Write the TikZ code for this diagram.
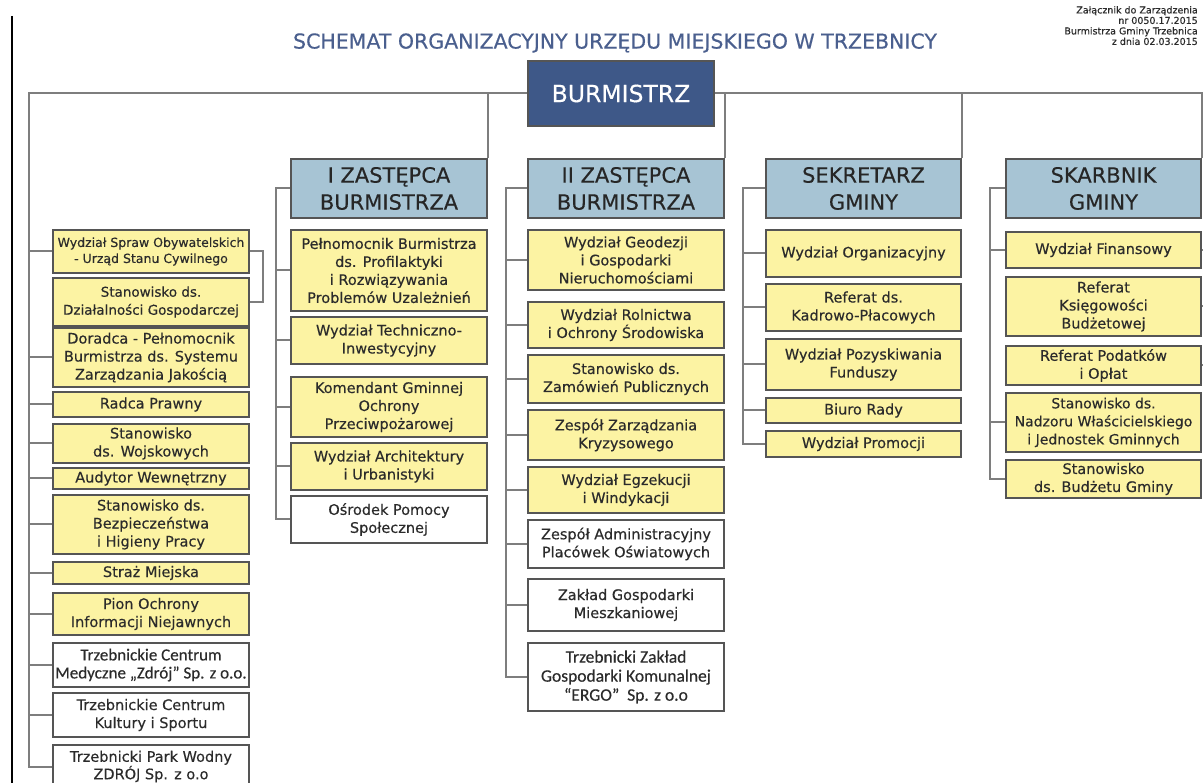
\documentclass[tikz,border=0pt]{standalone}
\usepackage{fontspec}
\setmainfont{DejaVu Sans}[FakeBold=0.35]
\newfontfamily\calib{Carlito}[FakeBold=0.35]
\definecolor{ylw}{HTML}{FCF3A3}
\definecolor{hdr}{HTML}{A7C4D4}
\definecolor{burc}{HTML}{3E5888}
\definecolor{bord}{HTML}{555555}
\definecolor{lnk}{HTML}{7E7E7E}
\definecolor{txt}{HTML}{2B2B2B}
\definecolor{ttl}{HTML}{4A5F8E}
\tikzset{
  bx/.style={draw=bord, line width=1.4pt, align=center, inner sep=0pt, text=txt,
    font=\fontsize{14.5}{18}\selectfont},
  yb/.style={bx, fill=ylw},
  wb/.style={bx, fill=white},
  hb/.style={bx, fill=hdr, text=black!85, font=\fontsize{21}{27}\selectfont},
  conn/.style={draw=lnk, line width=2pt},
}
\newcommand\mkbox[7]{\node[#2, minimum width={(#4-#3)*1pt}, minimum height={(#6-#5)*1pt}] (#1) at ({(#3+#4)/2},{(#5+#6)/2}) {#7};}
\begin{document}
\begin{tikzpicture}[x=1pt,y=-1pt]
\fill[white] (0,0) rectangle (1203,783);
\useasboundingbox (0,0) rectangle (1203,783);
\draw[black, line width=2pt] (12,16) -- (12,783);

\node[font=\fontsize{20.5}{24}\selectfont, text=ttl, inner sep=0pt] (title) at (615,43) {SCHEMAT ORGANIZACYJNY URZĘDU MIEJSKIEGO W TRZEBNICY};
\node[anchor=north east, align=right, font=\fontsize{9.5}{10.5}\selectfont, text=txt, inner sep=0pt] (note) at (1198,6) {Załącznik do Zarządzenia\\nr 0050.17.2015\\Burmistrza Gminy Trzebnica\\z dnia 02.03.2015};

\mkbox{bur}{bx, fill=burc, text=white, font=\fontsize{23.5}{28}\selectfont}{528}{714}{61}{126}{BURMISTRZ}

\mkbox{z1}{hb}{291}{487}{159}{218}{I ZASTĘPCA\\BURMISTRZA}
\mkbox{z2}{hb}{528}{724}{159}{218}{II ZASTĘPCA\\BURMISTRZA}
\mkbox{sek}{hb}{766}{961}{159}{218}{SEKRETARZ\\GMINY}
\mkbox{ska}{hb}{1006}{1201}{159}{218}{SKARBNIK\\GMINY}

% left column
\mkbox{l1}{yb, font=\fontsize{12.5}{16}\selectfont}{53}{249}{230}{273}{Wydział Spraw Obywatelskich\\- Urząd Stanu Cywilnego}
\mkbox{l2}{yb, font=\fontsize{13.5}{18}\selectfont}{53}{249}{278}{326}{Stanowisko ds.\\Działalności Gospodarczej}
\mkbox{l3}{yb}{53}{249}{328}{387}{Doradca - Pełnomocnik\\Burmistrza ds. Systemu\\Zarządzania Jakością}
\mkbox{l4}{yb}{53}{249}{392}{417}{Radca Prawny}
\mkbox{l5}{yb}{53}{249}{424}{463}{Stanowisko\\ds. Wojskowych}
\mkbox{l6}{yb}{53}{249}{468}{489}{Audytor Wewnętrzny}
\mkbox{l7}{yb}{53}{249}{495}{554}{Stanowisko ds.\\Bezpieczeństwa\\i Higieny Pracy}
\mkbox{l8}{yb}{53}{249}{562}{584}{Straż Miejska}
\mkbox{l9}{yb}{53}{249}{593}{635}{Pion Ochrony\\Informacji Niejawnych}
\mkbox{l10}{wb, font=\calib\fontsize{17}{18}\selectfont}{53}{249}{643}{687}{Trzebnickie Centrum\\Medyczne „Zdrój” Sp. z o.o.}
\mkbox{l11}{wb}{53}{249}{693}{737}{Trzebnickie Centrum\\Kultury i Sportu}
\mkbox{l12}{wb, font=\fontsize{14.5}{14}\selectfont}{53}{249}{745}{788}{Trzebnicki Park Wodny\\ZDRÓJ Sp. z o.o}

% I zastepca
\mkbox{a1}{yb}{291}{487}{230}{311}{Pełnomocnik Burmistrza\\ds. Profilaktyki\\i Rozwiązywania\\Problemów Uzależnień}
\mkbox{a2}{yb}{291}{487}{317}{364}{Wydział Techniczno-\\Inwestycyjny}
\mkbox{a3}{yb}{291}{487}{377}{437}{Komendant Gminnej\\Ochrony\\Przeciwpożarowej}
\mkbox{a4}{yb}{291}{487}{443}{490}{Wydział Architektury\\i Urbanistyki}
\mkbox{a5}{wb}{291}{487}{496}{543}{Ośrodek Pomocy\\Społecznej}

% II zastepca
\mkbox{b1}{yb}{528}{724}{230}{290}{Wydział Geodezji\\i Gospodarki\\Nieruchomościami}
\mkbox{b2}{yb}{528}{724}{302}{348}{Wydział Rolnictwa\\i Ochrony Środowiska}
\mkbox{b3}{yb}{528}{724}{355}{403}{Stanowisko ds.\\Zamówień Publicznych}
\mkbox{b4}{yb}{528}{724}{410}{460}{Zespół Zarządzania\\Kryzysowego}
\mkbox{b5}{yb}{528}{724}{467}{513}{Wydział Egzekucji\\i Windykacji}
\mkbox{b6}{wb}{528}{724}{520}{568}{Zespół Administracyjny\\Placówek Oświatowych}
\mkbox{b7}{wb}{528}{724}{579}{631}{Zakład Gospodarki\\Mieszkaniowej}
\mkbox{b8}{wb, font=\calib\fontsize{17.5}{19}\selectfont}{528}{724}{643}{711}{Trzebnicki Zakład\\Gospodarki Komunalnej\\“ERGO”\ \ Sp. z o.o}

% sekretarz
\mkbox{c1}{yb}{766}{961}{230}{277}{Wydział Organizacyjny}
\mkbox{c2}{yb}{766}{961}{284}{331}{Referat ds.\\Kadrowo-Płacowych}
\mkbox{c3}{yb}{766}{961}{339}{390}{Wydział Pozyskiwania\\Funduszy}
\mkbox{c4}{yb}{766}{961}{398}{423}{Biuro Rady}
\mkbox{c5}{yb}{766}{961}{431}{457}{Wydział Promocji}

% skarbnik
\mkbox{d1}{yb}{1006}{1201}{232}{268}{Wydział Finansowy}
\mkbox{d2}{yb}{1006}{1201}{277}{336}{Referat\\Księgowości\\Budżetowej}
\mkbox{d3}{yb}{1006}{1201}{346}{385}{Referat Podatków\\i Opłat}
\mkbox{d4}{yb, font=\fontsize{14}{18}\selectfont}{1006}{1201}{393}{452}{Stanowisko ds.\\Nadzoru Właścicielskiego\\i Jednostek Gminnych}
\mkbox{d5}{yb}{1006}{1201}{460}{498}{Stanowisko\\ds. Budżetu Gminy}

% connectors
\draw[conn] (bur.west) -- ++(-498,0) coordinate (lt) -- (lt |- l12.west) -- (l12.west);
\draw[conn] (bur.east) -- (bur.east -| ska.north east) -- (ska.north east);
\draw[conn] (z1.north east) -- (z1.north east |- bur.west);
\draw[conn] (z2.north east) -- (z2.north east |- bur.east);
\draw[conn] (sek.north east) -- (sek.north east |- bur.east);
\foreach \nm in {l1,l3,l4,l5,l6,l7,l8,l9,l10,l11}
  \draw[conn] (lt |- \nm.west) -- (\nm.west);
\draw[conn] (l1.east) -- ++(13,0) |- (l2.east);

\draw[conn] (z1.west) -- ++(-14,0) coordinate (za) -- (za |- a5.west) -- (a5.west);
\foreach \nm in {a1,a2,a3,a4}
  \draw[conn] (za |- \nm.west) -- (\nm.west);
\draw[conn] (z2.west) -- ++(-21,0) coordinate (zb) -- (zb |- b8.west) -- (b8.west);
\foreach \nm in {b1,b2,b3,b4,b5,b6,b7}
  \draw[conn] (zb |- \nm.west) -- (\nm.west);
\draw[conn] (sek.west) -- ++(-22,0) coordinate (zc) -- (zc |- c5.west) -- (c5.west);
\foreach \nm in {c1,c2,c3,c4}
  \draw[conn] (zc |- \nm.west) -- (\nm.west);
\draw[conn] (ska.west) -- ++(-15,0) coordinate (zd) -- (zd |- d5.west) -- (d5.west);
\foreach \nm in {d1,d4}
  \draw[conn] (zd |- \nm.west) -- (\nm.west);
\foreach \nm in {d1,d2,d3}
  \draw[conn] (\nm.east) -- ++(3,0);
\end{tikzpicture}
\end{document}
